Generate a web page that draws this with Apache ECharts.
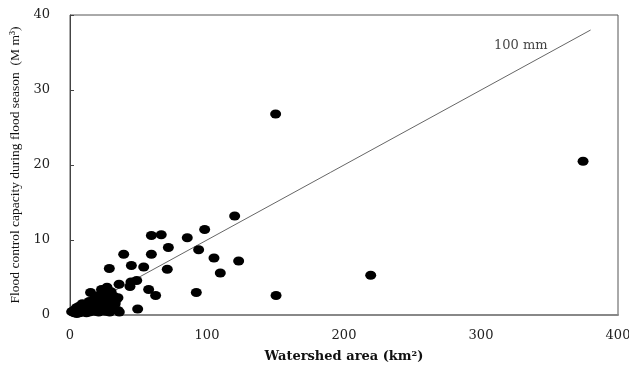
<!DOCTYPE html>
<html>
<head>
<meta charset="utf-8">
<script src="https://cdn.jsdelivr.net/npm/echarts@6/dist/echarts.min.js"></script>
<style>html,body{margin:0;padding:0;background:#fff}#c{width:629px;height:367px}</style>
</head>
<body>
<div id="c"></div>
<script>
// Observed reservoirs: [watershed area (km2), flood control capacity (M m3)]
var reservoirPoints = [
  [1.2,0.45],[2,0.5],[3,0.3],[4,0.8],[5,0.2],[5,1.0],[6,0.5],[7,1.2],[7,0.3],[8,0.8],
  [9,1.5],[9,0.4],[10,1.0],[11,0.6],[12,1.3],[12,0.3],[13,0.8],[14,1.8],[14,0.4],[15,3.0],
  [15,1.2],[16,0.7],[17,1.6],[18,2.2],[18,0.5],[19,1.0],[20,1.8],[21,0.4],[21,2.6],[22,1.3],
  [23,3.4],[23,0.8],[24,2.0],[25,1.5],[26,0.5],[26,2.8],[27,3.7],[27,1.0],[28,2.4],[29,0.4],
  [29,1.8],[30,3.1],[31,0.9],[32,2.5],[33,1.5],[34,2.1],[35,0.6],[36,0.4],[35,2.3],
  [28.7,6.2],[35.8,4.1],[39.2,8.1],[43.8,3.8],[44.5,4.4],[48.7,4.6],[44.8,6.6],[53.8,6.4],
  [49.4,0.8],[57.4,3.4],[59.4,10.6],[59.4,8.1],[62.5,2.6],[66.6,10.7],[71,6.1],[71.8,9.0],
  [85.6,10.3],[92.2,3.0],[93.9,8.7],[98.3,11.4],[105.1,7.6],[109.7,5.6],[120.2,13.2],
  [123.1,7.2],[150.1,26.8],[150.4,2.6],[219.5,5.3],[374.5,20.5]
];
// 100 mm reference line: capacity = 0.1 * area
var refLine = [[0,0],[380,38]];
var refLabel = [[329,35.9]];
var refLabelText = '100 mm';
var xTicks = {min:0, max:400, interval:100};
var yTicks = {min:0, max:40, interval:10};
var xTitle = 'Watershed area (km\u00B2)';
var yTitle = 'Flood control capacity during flood season  (M m\u00B3)';

var serif = '"Liberation Serif","DejaVu Serif",serif';
var wide = '"DejaVu Serif",serif';
var chart = echarts.init(document.getElementById('c'));
chart.setOption({
  animation:false,
  backgroundColor:'#fff',
  grid:{left:70,right:11,top:15,bottom:52,containLabel:false,outerBoundsMode:'none',
        show:true,borderColor:'#555',borderWidth:1},
  xAxis:{
    type:'value',min:xTicks.min,max:xTicks.max,interval:xTicks.interval,
    name:xTitle,nameLocation:'middle',nameGap:35,
    nameTextStyle:{fontFamily:wide,fontSize:13,fontWeight:'bold',color:'#111'},
    axisLine:{show:true,lineStyle:{color:'#888',width:2}},
    axisTick:{show:false},
    splitLine:{show:false},
    axisLabel:{fontFamily:wide,fontSize:13,color:'#222',margin:14}
  },
  yAxis:{
    type:'value',min:yTicks.min,max:yTicks.max,interval:yTicks.interval,
    name:yTitle,nameLocation:'middle',nameGap:47,
    nameTextStyle:{fontFamily:serif,fontSize:13.5,color:'#111'},
    axisLine:{show:true,lineStyle:{color:'#444',width:1}},
    axisTick:{show:true,inside:true,length:4,lineStyle:{color:'#444'}},
    splitLine:{show:false},
    axisLabel:{fontFamily:wide,fontSize:13,color:'#222',margin:20}
  },
  series:[
    {type:'line',data:refLine,symbol:'none',lineStyle:{color:'#666',width:1},z:1},
    {type:'scatter',data:reservoirPoints,symbol:'circle',symbolSize:[11,9],
     itemStyle:{color:'#000',opacity:1},emphasis:{disabled:true},z:3},
    {type:'scatter',data:refLabel,symbolSize:0,silent:true,
     label:{show:true,position:'inside',formatter:refLabelText,fontFamily:wide,fontSize:13,color:'#111'}}
  ]
});
</script>
</body>
</html>
